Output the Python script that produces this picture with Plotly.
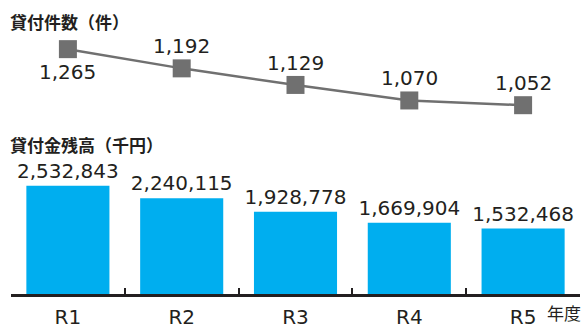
import plotly.graph_objects as go

categories = ["R1", "R2", "R3", "R4", "R5"]
loan_counts = [1265, 1192, 1129, 1070, 1052]
loan_balance = [2532843, 2240115, 1928778, 1669904, 1532468]
count_label_above = [False, True, True, True, True]

FONT = "Noto Sans CJK JP"
NUMFONT = "DejaVu Sans"
TXT = "#231f20"

fig = go.Figure()

fig.add_trace(go.Bar(
    x=categories, y=loan_balance, width=0.73,
    marker=dict(color="#00aeef", line=dict(width=0)),
    text=[f"{v:,}" for v in loan_balance], textposition="outside",
    constraintext="none",
    textfont=dict(family=NUMFONT, size=20, color=TXT),
    cliponaxis=False, yaxis="y", xaxis="x",
))

fig.add_trace(go.Scatter(
    x=categories, y=loan_counts, mode="lines+markers",
    line=dict(color="#707070", width=2.5),
    marker=dict(symbol="square", size=18, color="#707070"),
    cliponaxis=False, yaxis="y2", xaxis="x",
))

for c, v, above in zip(categories, loan_counts, count_label_above):
    fig.add_annotation(x=c, y=v, xref="x", yref="y2", text=f"{v:,}", showarrow=False,
                       yanchor="middle", yshift=22 if above else -23,
                       font=dict(family=NUMFONT, size=20, color=TXT))

fig.update_layout(
    width=588, height=329,
    margin=dict(l=11, r=8, t=0, b=30),
    paper_bgcolor="white", plot_bgcolor="white",
    showlegend=False,
    font=dict(family=FONT, color=TXT),
    xaxis=dict(type="category", range=[-0.5, 4.5], showline=True, linecolor=TXT, linewidth=3,
               ticks="", showgrid=False, zeroline=False, ticklabelstandoff=3,
               tickfont=dict(family=NUMFONT, size=20, color=TXT)),
    xaxis2=dict(overlaying="x", anchor="y", range=[-0.5, 4.5], side="bottom",
                tickvals=[0.5, 1.5, 2.5, 3.5], ticks="inside", ticklen=6, tickwidth=1.5,
                tickcolor=TXT, showticklabels=False, showgrid=False, zeroline=False,
                showline=False),
    yaxis=dict(range=[0, 6884800], visible=False, showgrid=False, zeroline=False),
    yaxis2=dict(range=[334.5, 1451.8], overlaying="y", visible=False, showgrid=False, zeroline=False),
)

# invisible trace to activate the boundary ticks of xaxis2
fig.add_trace(go.Scatter(x=[0], y=[0], xaxis="x2", yaxis="y", mode="markers",
                         marker=dict(opacity=0), hoverinfo="skip"))

fig.add_annotation(text="<b>貸付件数（件）</b>", xref="paper", yref="paper", x=0, y=1,
                   xanchor="left", yanchor="middle", yshift=-21, xshift=-3, showarrow=False,
                   font=dict(family=FONT, size=17, color=TXT))
fig.add_annotation(text="<b>貸付金残高（千円）</b>", xref="paper", yref="paper", x=0, y=1,
                   xanchor="left", yanchor="middle", yshift=-144, xshift=-3, showarrow=False,
                   font=dict(family=FONT, size=17, color=TXT))
fig.add_annotation(text="年度", xref="paper", yref="paper", x=1, y=0,
                   xanchor="right", yanchor="bottom", yshift=-33, xshift=3, showarrow=False,
                   font=dict(family=FONT, size=17, color=TXT))

fig.write_html("out.html")
